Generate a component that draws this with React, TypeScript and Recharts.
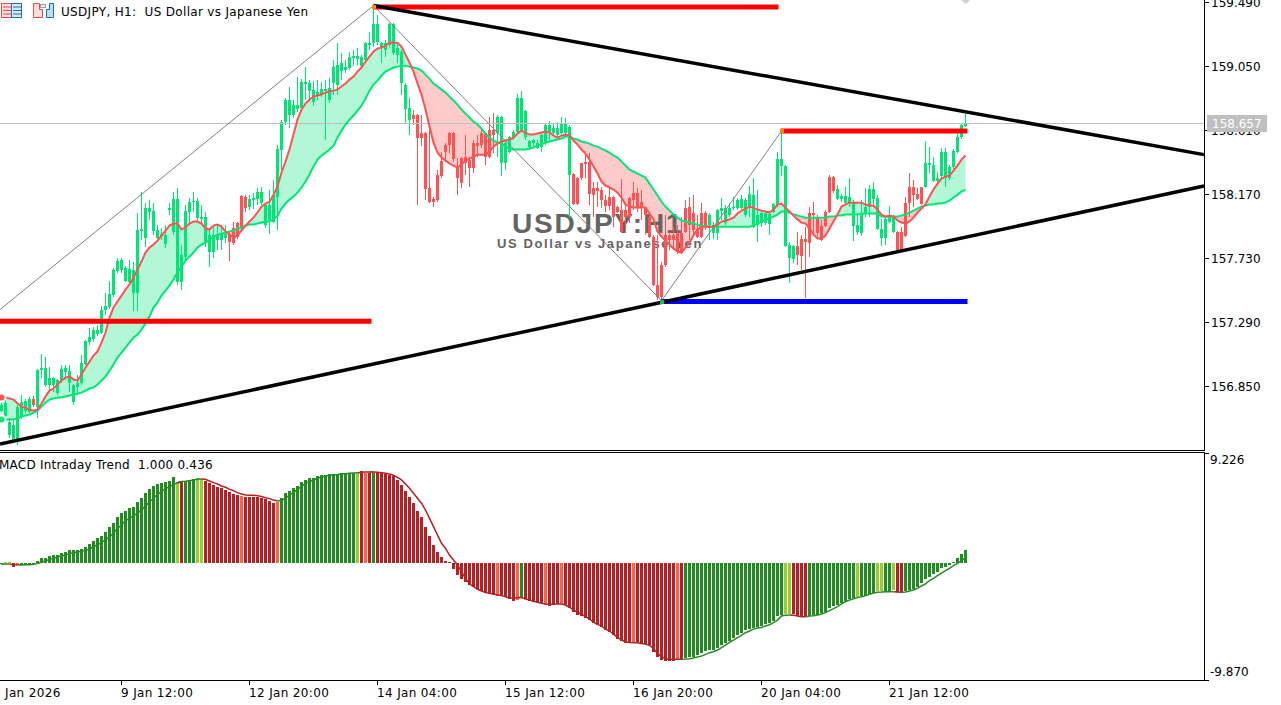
import { Area, Bar, Cell, ComposedChart, Line, ReferenceDot, ReferenceLine, XAxis, YAxis } from "recharts";

const UI_FONT = "'DejaVu Sans', sans-serif";

const opens = [
  156.684, 156.65, 156.519, 156.478, 156.478, 156.643, 156.684, 156.677, 156.767, 156.712,
  156.966, 156.863, 156.863, 156.863, 156.808, 156.891, 156.953, 156.877, 156.746, 156.849,
  156.877, 157.008, 157.159, 157.179, 157.214, 157.221, 157.379, 157.399, 157.482, 157.647,
  157.654, 157.578, 157.571, 157.496, 157.496, 157.922, 157.874, 158.053, 157.922, 157.874,
  157.888, 157.833, 158.066, 157.915, 157.571, 157.571, 157.743, 158.053, 158.121, 158.011,
  158.004, 157.839, 157.778, 157.778, 157.86, 157.86, 157.874, 157.894, 157.943, 157.977,
  158.163, 158.156, 158.087, 158.135, 158.142, 158.114, 157.963, 157.998, 157.984, 158.156,
  158.479, 158.671, 158.719, 158.719, 158.761, 158.768, 158.933, 158.884, 158.809, 158.857,
  158.857, 158.884, 158.823, 158.939, 158.926, 159.022, 159.029, 159.043, 159.111, 159.104,
  159.056, 159.098, 159.201, 159.214, 159.221, 159.187, 159.166, 159.201, 159.146, 159.132,
  158.939, 158.761, 158.685, 158.719, 158.719, 158.596, 158.596, 158.218, 158.142, 158.307,
  158.403, 158.513, 158.596, 158.596, 158.355, 158.424, 158.431, 158.41, 158.527, 158.527,
  158.596, 158.596, 158.616, 158.616, 158.596, 158.389, 158.389, 158.465, 158.568, 158.603,
  158.616, 158.568, 158.499, 158.527, 158.493, 158.499, 158.534, 158.603, 158.596, 158.582,
  158.596, 158.596, 158.307, 158.314, 158.286, 158.389, 158.396, 158.396, 158.218, 158.218,
  158.204, 158.135, 158.156, 158.156, 158.087, 158.066, 158.066, 158.149, 158.183, 158.183,
  158.121, 158.08, 158.018, 157.881, 157.551, 157.688, 157.894, 157.894, 157.894, 157.908,
  157.908, 158.08, 158.087, 158.046, 157.936, 158.046, 158.046, 157.963, 157.908, 157.908,
  158.059, 157.977, 158.032, 158.08, 158.08, 158.08, 158.032, 158.087, 157.949, 157.963,
  157.977, 157.977, 157.97, 158.053, 158.101, 158.369, 157.819, 157.736, 157.729, 157.819,
  157.867, 157.867, 158.046, 158.046, 158.018, 157.956, 158.053, 158.293, 158.293, 158.142,
  158.142, 158.114, 158.114, 157.956, 157.915, 157.908, 158.046, 158.087, 158.142, 157.936,
  157.874, 157.874, 157.984, 157.915, 157.915, 157.915, 158.114, 158.224, 158.224, 158.176,
  158.224, 158.224, 158.376, 158.266, 158.266, 158.3, 158.286, 158.286, 158.362, 158.465, 158.568, 158.644,
];

const highs = [
  156.746, 156.76, 156.636, 156.636, 156.726, 156.794, 156.767, 156.781, 156.788, 156.973,
  157.076, 157.056, 156.987, 156.918, 156.904, 157.001, 157.001, 157.001, 156.87, 156.932,
  157.069, 157.173, 157.255, 157.262, 157.276, 157.406, 157.496, 157.578, 157.668, 157.736,
  157.736, 157.681, 157.723, 157.709, 158.046, 158.19, 158.114, 158.135, 158.114, 157.963,
  157.943, 157.963, 158.114, 158.19, 158.218, 157.826, 158.101, 158.149, 158.19, 158.149,
  158.101, 158.053, 157.943, 157.963, 157.963, 157.963, 157.963, 157.915, 157.984, 157.984,
  158.169, 158.169, 158.169, 158.183, 158.218, 158.224, 158.108, 158.204, 158.273, 158.513,
  158.685, 158.836, 158.912, 158.823, 158.981, 158.967, 159.049, 158.96, 158.953, 158.96,
  158.946, 158.96, 158.974, 159.098, 159.214, 159.146, 159.098, 159.153, 159.166, 159.18,
  159.132, 159.221, 159.29, 159.469, 159.407, 159.221, 159.235, 159.352, 159.352, 159.221,
  159.166, 158.939, 158.836, 158.754, 158.726, 158.719, 158.603, 158.664, 158.156, 158.341,
  158.465, 158.527, 158.603, 158.603, 158.424, 158.431, 158.582, 158.431, 158.548, 158.582,
  158.63, 158.603, 158.706, 158.733, 158.719, 158.712, 158.534, 158.575, 158.616, 158.864,
  158.884, 158.754, 158.548, 158.554, 158.548, 158.596, 158.664, 158.678, 158.658, 158.671,
  158.706, 158.699, 158.651, 158.321, 158.293, 158.389, 158.444, 158.458, 158.259, 158.259,
  158.224, 158.169, 158.218, 158.163, 158.094, 158.279, 158.114, 158.156, 158.259, 158.218,
  158.204, 158.087, 158.046, 157.894, 157.894, 157.709, 158.032, 157.915, 157.949, 157.963,
  158.018, 158.135, 158.156, 158.169, 158.032, 158.114, 158.059, 158.046, 157.984, 158.073,
  158.149, 158.101, 158.114, 158.156, 158.149, 158.169, 158.149, 158.231, 158.286, 158.204,
  158.053, 158.053, 158.046, 158.114, 158.465, 158.596, 158.376, 157.846, 157.826, 157.915,
  157.894, 157.949, 158.087, 158.121, 158.032, 157.998, 158.066, 158.307, 158.3, 158.238,
  158.176, 158.224, 158.286, 158.135, 158.032, 158.135, 158.218, 158.238, 158.259, 158.169,
  158.004, 158.018, 158.094, 158.032, 157.922, 157.949, 158.156, 158.321, 158.273, 158.218,
  158.224, 158.541, 158.499, 158.431, 158.328, 158.493, 158.493, 158.376, 158.486, 158.596, 158.658, 158.733,
];

const lows = [
  156.677, 156.636, 156.499, 156.464, 156.451, 156.629, 156.671, 156.671, 156.712, 156.636,
  156.911, 156.849, 156.829, 156.815, 156.794, 156.877, 156.898, 156.815, 156.726, 156.794,
  156.863, 157.001, 157.138, 157.159, 157.2, 157.214, 157.344, 157.386, 157.468, 157.633,
  157.633, 157.571, 157.564, 157.372, 157.372, 157.86, 157.812, 157.998, 157.894, 157.846,
  157.86, 157.805, 158.032, 157.894, 157.551, 157.516, 157.723, 157.963, 158.053, 157.984,
  157.963, 157.812, 157.674, 157.736, 157.791, 157.791, 157.839, 157.716, 157.826, 157.867,
  157.929, 158.053, 158.066, 158.073, 158.101, 158.101, 157.943, 157.901, 157.977, 157.929,
  158.341, 158.651, 158.63, 158.699, 158.74, 158.747, 158.823, 158.809, 158.781, 158.823,
  158.843, 158.548, 158.802, 158.857, 158.857, 158.96, 159.008, 159.029, 159.056, 159.063,
  159.043, 159.077, 159.166, 159.187, 159.201, 159.077, 159.118, 159.187, 159.132, 159.077,
  158.857, 158.664, 158.582, 158.651, 158.101, 158.506, 158.135, 158.114, 158.087, 158.121,
  158.286, 158.396, 158.458, 158.396, 158.169, 158.218, 158.307, 158.224, 158.321, 158.431,
  158.493, 158.376, 158.424, 158.458, 158.431, 158.3, 158.341, 158.458, 158.548, 158.596,
  158.603, 158.548, 158.479, 158.506, 158.486, 158.465, 158.513, 158.548, 158.582, 158.568,
  158.582, 158.575, 158.011, 158.101, 158.101, 158.273, 158.286, 158.101, 158.018, 158.087,
  158.08, 158.053, 158.066, 157.949, 158.046, 157.908, 157.929, 157.977, 158.066, 158.053,
  157.998, 157.894, 157.874, 157.544, 157.448, 157.448, 157.674, 157.791, 157.791, 157.764,
  157.764, 157.908, 157.86, 157.881, 157.874, 157.874, 157.929, 157.86, 157.867, 157.86,
  157.998, 157.963, 158.018, 158.066, 158.066, 158.073, 158.018, 158.018, 157.943, 157.846,
  157.949, 157.963, 157.894, 158.046, 158.087, 158.3, 157.812, 157.564, 157.702, 157.688,
  157.654, 157.461, 157.743, 157.908, 157.888, 157.853, 157.949, 158.046, 158.183, 158.135,
  158.121, 158.101, 158.087, 157.853, 157.894, 157.888, 158.018, 158.018, 158.087, 157.929,
  157.819, 157.826, 157.977, 157.908, 157.791, 157.778, 157.881, 158.018, 158.087, 158.135,
  158.101, 158.218, 158.321, 158.259, 158.231, 158.273, 158.224, 158.273, 158.348, 158.458, 158.554, 158.637,
];

const closes = [
  156.726, 156.739, 156.609, 156.588, 156.712, 156.746, 156.753, 156.767, 156.726, 156.966,
  156.98, 156.98, 156.911, 156.911, 156.898, 156.973, 156.98, 156.959, 156.863, 156.877,
  157.014, 157.166, 157.193, 157.241, 157.241, 157.379, 157.406, 157.489, 157.654, 157.716,
  157.723, 157.668, 157.661, 157.654, 157.929, 157.936, 158.08, 158.08, 158.059, 157.929,
  157.901, 157.894, 158.08, 158.142, 158.142, 157.757, 158.059, 158.121, 158.128, 158.128,
  158.018, 158.018, 157.894, 157.894, 157.894, 157.901, 157.901, 157.846, 157.839, 157.881,
  157.949, 158.08, 158.142, 158.149, 158.19, 158.19, 158.101, 158.101, 158.169, 158.486,
  158.671, 158.823, 158.823, 158.788, 158.788, 158.946, 158.946, 158.939, 158.891, 158.878,
  158.898, 158.898, 158.905, 159.049, 159.063, 159.077, 159.049, 159.118, 159.125, 159.125,
  159.118, 159.214, 159.214, 159.345, 159.345, 159.214, 159.214, 159.345, 159.345, 159.18,
  159.153, 158.926, 158.768, 158.692, 158.561, 158.561, 158.211, 158.121, 158.121, 158.135,
  158.3, 158.465, 158.513, 158.417, 158.286, 158.252, 158.389, 158.355, 158.355, 158.506,
  158.513, 158.431, 158.431, 158.582, 158.706, 158.706, 158.527, 158.568, 158.603, 158.836,
  158.836, 158.747, 158.541, 158.548, 158.527, 158.582, 158.651, 158.651, 158.63, 158.63,
  158.664, 158.658, 158.637, 158.108, 158.108, 158.286, 158.383, 158.176, 158.169, 158.197,
  158.135, 158.094, 158.094, 158.018, 158.053, 157.915, 158.018, 158.018, 158.135, 158.087,
  158.08, 158.032, 157.881, 157.551, 157.468, 157.468, 157.688, 157.86, 157.86, 157.778,
  157.771, 157.915, 157.963, 157.929, 157.881, 157.881, 157.949, 158.032, 157.963, 158.066,
  158.08, 158.08, 158.08, 158.087, 158.135, 158.142, 158.135, 158.176, 158.169, 158.032,
  158.046, 158.046, 158.039, 158.108, 158.417, 158.417, 158.369, 157.826, 157.819, 157.757,
  157.75, 157.846, 157.839, 158.032, 157.908, 157.86, 157.956, 158.053, 158.197, 158.211,
  158.163, 158.163, 158.156, 158.114, 157.963, 158.046, 158.087, 158.211, 158.211, 158.149,
  157.936, 158.004, 158.032, 158.018, 157.791, 157.791, 157.888, 158.114, 158.169, 158.142,
  158.108, 158.389, 158.389, 158.376, 158.286, 158.465, 158.465, 158.362, 158.472, 158.568, 158.651, 158.657,
];

const fastMa = [
  156.774, 156.774, 156.767, 156.76, 156.733, 156.712, 156.705, 156.691, 156.684, 156.691,
  156.733, 156.781, 156.822, 156.836, 156.863, 156.891, 156.911, 156.918, 156.898, 156.891,
  156.932, 156.98, 157.021, 157.063, 157.09, 157.152, 157.221, 157.324, 157.393, 157.434,
  157.475, 157.516, 157.551, 157.599, 157.654, 157.709, 157.771, 157.805, 157.826, 157.853,
  157.888, 157.922, 157.956, 157.97, 157.97, 157.929, 157.943, 157.97, 157.984, 157.984,
  157.97, 157.936, 157.929, 157.956, 157.963, 157.949, 157.915, 157.894, 157.874, 157.888,
  157.922, 157.956, 157.984, 158.011, 158.046, 158.087, 158.108, 158.121, 158.169, 158.224,
  158.321, 158.396, 158.479, 158.582, 158.685, 158.754, 158.795, 158.823, 158.843, 158.85,
  158.857, 158.871, 158.878, 158.884, 158.891, 158.912, 158.933, 158.96, 158.981, 159.015,
  159.043, 159.084, 159.118, 159.153, 159.173, 159.18, 159.194, 159.214, 159.214, 159.214,
  159.187, 159.132, 159.077, 159.015, 158.933, 158.857, 158.754, 158.637, 158.527, 158.458,
  158.424, 158.403, 158.383, 158.369, 158.355, 158.376, 158.403, 158.417, 158.431, 158.444,
  158.444, 158.444, 158.465, 158.499, 158.52, 158.534, 158.541, 158.548, 158.561, 158.589,
  158.609, 158.596, 158.582, 158.582, 158.589, 158.596, 158.603, 158.596, 158.575, 158.561,
  158.575, 158.582, 158.575, 158.541, 158.513, 158.479, 158.451, 158.41, 158.362, 158.314,
  158.259, 158.231, 158.218, 158.204, 158.183, 158.149, 158.101, 158.087, 158.08, 158.08,
  158.08, 158.08, 158.039, 157.998, 157.915, 157.881, 157.853, 157.826, 157.798, 157.778,
  157.771, 157.805, 157.839, 157.888, 157.929, 157.949, 157.949, 157.949, 157.949, 157.963,
  157.984, 157.991, 157.998, 158.011, 158.039, 158.059, 158.073, 158.087, 158.08, 158.066,
  158.059, 158.053, 158.046, 158.066, 158.101, 158.108, 158.08, 158.053, 158.025, 157.998,
  157.977, 157.97, 157.936, 157.894, 157.867, 157.867, 157.888, 157.936, 157.984, 158.032,
  158.087, 158.101, 158.114, 158.114, 158.114, 158.114, 158.101, 158.094, 158.094, 158.066,
  158.032, 158.018, 158.025, 158.018, 157.991, 157.977, 157.97, 157.984, 158.011, 158.046,
  158.073, 158.101, 158.156, 158.204, 158.245, 158.279, 158.293, 158.3, 158.334, 158.369, 158.41, 158.438,
];

const slowMa = [
  156.623, 156.623, 156.623, 156.623, 156.629, 156.643, 156.65, 156.657, 156.671, 156.684,
  156.712, 156.739, 156.76, 156.767, 156.774, 156.774, 156.781, 156.788, 156.794, 156.801,
  156.808, 156.822, 156.836, 156.843, 156.863, 156.891, 156.918, 156.959, 157.001, 157.049,
  157.083, 157.118, 157.152, 157.186, 157.207, 157.241, 157.283, 157.331, 157.393, 157.427,
  157.475, 157.509, 157.544, 157.585, 157.633, 157.674, 157.716, 157.743, 157.771, 157.805,
  157.826, 157.839, 157.86, 157.881, 157.894, 157.901, 157.908, 157.915, 157.922, 157.936,
  157.943, 157.956, 157.963, 157.963, 157.97, 157.977, 157.984, 157.984, 157.998, 158.025,
  158.073, 158.108, 158.135, 158.156, 158.183, 158.218, 158.259, 158.307, 158.362, 158.41,
  158.438, 158.458, 158.479, 158.506, 158.561, 158.609, 158.651, 158.685, 158.713, 158.747,
  158.781, 158.829, 158.884, 158.926, 158.953, 158.988, 159.015, 159.029, 159.043, 159.049,
  159.056, 159.056, 159.049, 159.043, 159.036, 159.022, 158.994, 158.967, 158.933, 158.912,
  158.891, 158.871, 158.843, 158.816, 158.788, 158.754, 158.726, 158.699, 158.671, 158.651,
  158.623, 158.589, 158.561, 158.541, 158.527, 158.52, 158.499, 158.486, 158.479, 158.479,
  158.479, 158.479, 158.486, 158.493, 158.506, 158.513, 158.527, 158.534, 158.541, 158.548,
  158.554, 158.568, 158.568, 158.554, 158.548, 158.534, 158.527, 158.52, 158.506, 158.499,
  158.486, 158.472, 158.458, 158.438, 158.424, 158.396, 158.369, 158.341, 158.328, 158.314,
  158.3, 158.286, 158.245, 158.204, 158.163, 158.121, 158.087, 158.059, 158.032, 158.011,
  157.991, 157.984, 157.977, 157.97, 157.963, 157.956, 157.956, 157.949, 157.949, 157.949,
  157.949, 157.949, 157.949, 157.949, 157.949, 157.949, 157.949, 157.949, 157.956, 157.97,
  157.984, 157.998, 158.004, 158.018, 158.032, 158.053, 158.053, 158.046, 158.032, 158.025,
  158.018, 158.011, 158.011, 158.011, 158.011, 158.011, 158.011, 158.018, 158.018, 158.025,
  158.025, 158.032, 158.032, 158.032, 158.032, 158.039, 158.039, 158.039, 158.039, 158.039,
  158.018, 158.018, 158.018, 158.018, 158.018, 158.025, 158.032, 158.046, 158.059, 158.073,
  158.087, 158.094, 158.101, 158.101, 158.108, 158.108, 158.114, 158.128, 158.149, 158.169, 158.19, 158.204,
];

const histogram = [
  -0.11, 0.06, 0.06, -0.34, -0.2, -0.22, -0.2, -0.2, -0.14, 0.17,
  0.36, 0.36, 0.56, 0.62, 0.64, 0.84, 0.92, 1.06, 1.06, 1.06,
  1.18, 1.34, 1.54, 1.85, 2.05, 2.24, 2.61, 2.97, 3.31, 3.81,
  4.15, 4.34, 4.57, 4.72, 5.14, 5.42, 5.84, 6.17, 6.45, 6.59,
  6.68, 6.76, 6.9, 7.18, 6.82, 6.9, 6.9, 6.96, 7.04, 7.1,
  7.01, 6.9, 6.68, 6.54, 6.4, 6.26, 6.12, 5.98, 5.78, 5.7,
  5.64, 5.56, 5.56, 5.56, 5.5, 5.42, 5.33, 5.22, 5.05, 5.14,
  5.42, 5.84, 6.06, 6.26, 6.48, 6.82, 6.96, 7.1, 7.15, 7.29,
  7.38, 7.38, 7.46, 7.43, 7.46, 7.52, 7.52, 7.57, 7.57, 7.52,
  7.69, 7.57, 7.57, 7.57, 7.66, 7.52, 7.46, 7.38, 7.29, 6.96,
  6.54, 6.06, 5.56, 5.0, 4.37, 3.87, 3.03, 2.24, 1.49, 0.92,
  0.45, 0.14, 0.08, -0.56, -1.04, -1.4, -1.6, -1.88, -2.07, -2.24,
  -2.38, -2.58, -2.63, -2.72, -2.77, -2.8, -2.91, -3.08, -3.19, -3.14,
  -3.0, -3.05, -3.19, -3.28, -3.36, -3.42, -3.56, -3.61, -3.56, -3.5,
  -3.5, -3.56, -3.84, -4.17, -4.4, -4.46, -4.62, -4.83, -5.11, -5.25,
  -5.39, -5.67, -5.81, -6.09, -6.45, -6.57, -6.73, -6.79, -6.79, -6.73,
  -6.79, -6.85, -6.93, -7.49, -7.97, -8.19, -8.25, -8.25, -8.25, -8.19,
  -8.19, -8.05, -7.97, -7.91, -7.77, -7.57, -7.43, -7.35, -7.35, -7.21,
  -6.93, -6.73, -6.57, -6.37, -6.09, -5.89, -5.67, -5.59, -5.47, -5.39,
  -5.31, -5.19, -5.11, -4.91, -4.46, -4.4, -4.32, -4.32, -4.32, -4.48,
  -4.54, -4.54, -4.48, -4.4, -4.4, -4.26, -4.12, -3.78, -3.64, -3.56,
  -3.36, -3.19, -3.05, -2.94, -2.86, -2.8, -2.77, -2.63, -2.52, -2.38,
  -2.38, -2.35, -2.35, -2.3, -2.44, -2.52, -2.41, -2.3, -2.24, -2.02,
  -1.74, -1.4, -1.18, -0.95, -0.76, -0.48, -0.34, -0.2, 0.08, 0.36, 0.73, 1.06,
];

const signal = [
  -0.14, -0.11, -0.11, -0.17, -0.2, -0.2, -0.17, -0.17, -0.14, -0.08,
  0.06, 0.14, 0.28, 0.36, 0.5, 0.56, 0.64, 0.76, 0.84, 0.9,
  0.95, 1.04, 1.15, 1.34, 1.51, 1.68, 1.91, 2.19, 2.47, 2.89,
  3.17, 3.53, 3.73, 3.95, 4.15, 4.43, 4.77, 5.11, 5.42, 5.75,
  5.98, 6.23, 6.4, 6.57, 6.73, 6.82, 6.85, 6.9, 6.96, 7.01,
  7.04, 7.01, 6.87, 6.73, 6.62, 6.45, 6.34, 6.17, 6.06, 5.89,
  5.78, 5.7, 5.67, 5.67, 5.64, 5.56, 5.47, 5.39, 5.28, 5.19,
  5.22, 5.42, 5.7, 5.89, 6.17, 6.4, 6.68, 6.82, 6.96, 7.1,
  7.18, 7.29, 7.35, 7.38, 7.41, 7.46, 7.49, 7.52, 7.55, 7.57,
  7.6, 7.63, 7.63, 7.63, 7.6, 7.57, 7.52, 7.46, 7.35, 7.18,
  6.96, 6.62, 6.26, 5.84, 5.42, 5.0, 4.43, 3.73, 3.03, 2.33,
  1.63, 1.2, 0.64, 0.22, -0.2, -0.76, -1.32, -1.79, -2.02, -2.24,
  -2.38, -2.52, -2.58, -2.63, -2.72, -2.77, -2.86, -2.97, -3.0, -2.94,
  -2.94, -3.05, -3.14, -3.25, -3.33, -3.42, -3.47, -3.5, -3.5, -3.47,
  -3.47, -3.56, -3.75, -3.98, -4.17, -4.34, -4.54, -4.74, -5.0, -5.19,
  -5.33, -5.59, -5.75, -6.01, -6.29, -6.51, -6.65, -6.71, -6.73, -6.73,
  -6.79, -6.85, -6.96, -7.21, -7.63, -7.91, -8.08, -8.13, -8.13, -8.13,
  -8.13, -8.11, -8.08, -8.02, -7.94, -7.86, -7.71, -7.57, -7.49, -7.35,
  -7.15, -6.93, -6.71, -6.51, -6.31, -6.12, -5.89, -5.75, -5.59, -5.5,
  -5.45, -5.33, -5.22, -5.05, -4.83, -4.48, -4.43, -4.4, -4.43, -4.48,
  -4.54, -4.54, -4.48, -4.46, -4.4, -4.32, -4.2, -4.03, -3.87, -3.7,
  -3.47, -3.28, -3.14, -3.03, -2.94, -2.86, -2.77, -2.66, -2.55, -2.49,
  -2.47, -2.44, -2.44, -2.44, -2.47, -2.49, -2.47, -2.38, -2.3, -2.16,
  -1.96, -1.79, -1.51, -1.32, -1.09, -0.87, -0.67, -0.48, -0.25, -0.06, 0.14, 0.436,
];

// G forestgreen, Y yellowgreen, R firebrick, T tomato, one letter per bar
const histStates =
  "GYYRT" + "G".repeat(39) + "YR" + "GGG" + "YY" + "R".repeat(9) + "T" + "R".repeat(8) + "T" +
  "G".repeat(19) + "YRTRG" + "R".repeat(30) + "T" + "RRRR" + "TG" + "RRRRR" + "T" + "RRR" + "T" +
  "R".repeat(17) + "T" + "R".repeat(10) + "TR" + "G".repeat(25) + "YY" + "RRRR" + "G".repeat(12) +
  "Y" + "GGGG" + "YY" + "GG" + "Y" + "RR" + "G".repeat(16);

const histColors: Record<string, string> = { G: "#228b22", Y: "#9acd32", R: "#b22222", T: "#ff6347" };

const priceTicks = [159.49, 159.05, 158.61, 158.17, 157.73, 157.29, 156.85];
const macdTicks = [9.226, -9.87];
const timeTicks = [-0.375, 30, 62, 94, 126, 158, 190, 222];
const timeLabels = ["Jan 2026", "9 Jan 12:00", "12 Jan 20:00", "14 Jan 04:00", "15 Jan 12:00", "16 Jan 20:00", "20 Jan 04:00", "21 Jan 12:00"];

const xDomain: [number, number] = [-0.375, 300.625];
const priceDomain: [number, number] = [156.4134, 159.5072];
const lastPrice = 158.657;

const zigzag = [
  { x: -0.375, y: 157.379 },
  { x: 93, y: 159.469 },
  { x: 165, y: 157.44 },
  { x: 195, y: 158.606 },
];
const upperTrend = [{ x: 93, y: 159.469 }, { x: 300.625, y: 158.444 }];
const lowerTrend = [{ x: -0.375, y: 156.454 }, { x: 300.625, y: 158.228 }];
const levels = [
  { from: -0.375, to: 92.5, y: 157.299, color: "#ff0000" },
  { from: 93, to: 194.25, y: 159.459, color: "#ff0000" },
  { from: 194.75, to: 241.5, y: 158.606, color: "#ff0000" },
  { from: 165, to: 241.5, y: 157.434, color: "#0000ff" },
];
const pivots = [
  { x: 93, y: 159.459, color: "#ff8c00" },
  { x: 195, y: 158.606, color: "#ff8c00" },
  { x: 165, y: 157.434, color: "#00c853" },
];

const priceRows = opens.map((open, i) => ({
  index: i,
  open,
  high: highs[i],
  low: lows[i],
  close: closes[i],
  fast: fastMa[i],
  slow: slowMa[i],
  bull: [slowMa[i], Math.max(fastMa[i], slowMa[i])],
  bear: [Math.min(fastMa[i], slowMa[i]), slowMa[i]],
  range: [lows[i], highs[i]],
}));

const isRed = (i: number) => histStates[i] === "R" || histStates[i] === "T";

const macdRows = histogram.map((hist, i) => ({
  index: i,
  hist,
  signalUp: !isRed(i) || (i < histogram.length - 1 && !isRed(i + 1)) ? signal[i] : null,
  signalDown: isRed(i) || (i < histogram.length - 1 && isRed(i + 1)) ? signal[i] : null,
}));

const Candle = (props: any) => {
  const { x, y, width, height, payload } = props;
  const up = payload.close >= payload.open;
  const color = up ? "#00e676" : "#ff5252";
  const span = payload.high - payload.low || 1;
  const top = Math.max(payload.open, payload.close);
  const bottom = Math.min(payload.open, payload.close);
  const bodyTop = Math.round(y + ((payload.high - top) / span) * height);
  const bodyBottom = Math.round(y + ((payload.high - bottom) / span) * height);
  return (
    <g shapeRendering="crispEdges">
      <rect x={x + 1} y={Math.round(y)} width={1} height={Math.max(1, Math.round(height))} fill={color} />
      <rect x={x} y={bodyTop} width={width} height={Math.max(1, bodyBottom - bodyTop)} fill={color} />
    </g>
  );
};

const TimeTick = (props: any) => {
  const { x, y, payload } = props;
  const i = timeTicks.indexOf(payload.value);
  if (i === 0) {
    return (
      <text x={5} y={y + 17} fontSize={12} fontFamily={UI_FONT} fill="#000" letterSpacing={0.35}>
        {timeLabels[i]}
      </text>
    );
  }
  return (
    <g>
      <rect x={x - 0.5} y={y} width={1} height={5} fill="#000" />
      <text x={x - 0.5} y={y + 17} fontSize={12} fontFamily={UI_FONT} fill="#000" letterSpacing={0.35}>
        {timeLabels[i]}
      </text>
    </g>
  );
};

// labels sit inside the panel, below the top tick and above the bottom one
const MacdTick = (props: any) => {
  const { y, payload } = props;
  const dy = payload.value > 0 ? 11 : -4;
  return (
    <text x={1210} y={y + dy} fontSize={12} fontFamily={UI_FONT} fill="#000">
      {payload.value.toFixed(3)}
    </text>
  );
};

const PivotMark = (props: any) => (
  <rect x={props.cx - 2} y={props.cy - 2} width={4} height={4} fill={props.fill} shapeRendering="crispEdges" />
);

const fixed = (value: number) => value.toFixed(3);

export default function App() {
  return (
    <div style={{ position: "fixed", left: 0, top: 0, width: 1281, height: 705, background: "#fff", overflow: "hidden" }}>
      {/* cloud sits under the watermark, candles over it */}
      <div style={{ position: "absolute", left: 0, top: 0 }}>
        <ComposedChart width={1281} height={451} data={priceRows} margin={{ top: 0, right: 77, bottom: 1, left: 0 }}>
          <XAxis type="number" dataKey="index" domain={xDomain} hide allowDataOverflow />
          <YAxis type="number" domain={priceDomain} hide allowDataOverflow />
          <Area dataKey="bull" stroke="none" fill="#b2f7d6" fillOpacity={1} isAnimationActive={false} />
          <Area dataKey="bear" stroke="none" fill="#ffcaca" fillOpacity={1} isAnimationActive={false} />
        </ComposedChart>
      </div>

      <svg width={1281} height={451} style={{ position: "absolute", left: 0, top: 0 }}>
        <text x={512} y={233} fontSize={28} fontWeight={700} letterSpacing={1.8} fontFamily="'Liberation Sans', sans-serif" fill="#646464">
          USDJPY:H1
        </text>
        <text x={497} y={248} fontSize={13} fontWeight={700} letterSpacing={1.6} fontFamily="'Liberation Sans', sans-serif" fill="#646464">
          US Dollar vs Japanese Yen
        </text>
      </svg>

      <div style={{ position: "absolute", left: 0, top: 0 }}>
        <ComposedChart width={1281} height={451} data={priceRows} margin={{ top: 0, right: 0, bottom: 1, left: 0 }}>
          <XAxis type="number" dataKey="index" domain={xDomain} hide allowDataOverflow />
          <YAxis
            orientation="right"
            type="number"
            domain={priceDomain}
            ticks={priceTicks}
            width={77}
            interval={0}
            allowDataOverflow
            tickFormatter={fixed}
            tickSize={5}
            tick={{ fill: "#000", fontSize: 12, fontFamily: UI_FONT }}
            axisLine={{ stroke: "#000", shapeRendering: "crispEdges" }}
            tickLine={{ stroke: "#000", shapeRendering: "crispEdges" }}
          />
          <ReferenceLine y={lastPrice} stroke="#c0c0c0" shapeRendering="crispEdges" />
          <Bar dataKey="range" barSize={3} shape={Candle} isAnimationActive={false} />
          <Line dataKey="slow" stroke="#00e676" strokeWidth={2} dot={false} isAnimationActive={false} />
          <Line dataKey="fast" stroke="#ff5252" strokeWidth={2} dot={false} isAnimationActive={false} />
          {zigzag.slice(1).map((p, i) => (
            <ReferenceLine key={`zig${i}`} segment={[zigzag[i], p]} stroke="#808080" strokeWidth={1} />
          ))}
          {levels.map((l) => (
            <ReferenceLine
              key={`${l.from}`}
              segment={[{ x: l.from, y: l.y }, { x: l.to, y: l.y }]}
              stroke={l.color}
              strokeWidth={5}
            />
          ))}
          <ReferenceLine segment={upperTrend} stroke="#000" strokeWidth={3.5} />
          <ReferenceLine segment={lowerTrend} stroke="#000" strokeWidth={3.5} />
          {pivots.map((p) => (
            <ReferenceDot key={p.x} x={p.x} y={p.y} fill={p.color} stroke="none" shape={PivotMark} />
          ))}
        </ComposedChart>
      </div>

      <div style={{ position: "absolute", left: 0, top: 452 }}>
        <ComposedChart width={1281} height={253} data={macdRows} margin={{ top: 1, right: 0, bottom: 0, left: 0 }}>
          <XAxis
            type="number"
            dataKey="index"
            domain={xDomain}
            ticks={timeTicks}
            interval={0}
            height={25}
            allowDataOverflow
            tickSize={0}
            tickMargin={0}
            tick={<TimeTick />}
            axisLine={{ stroke: "#000", shapeRendering: "crispEdges" }}
          />
          <YAxis
            orientation="right"
            type="number"
            domain={[-9.87, 9.226]}
            ticks={macdTicks}
            width={77}
            interval={0}
            allowDataOverflow
            tickSize={5}
            tick={<MacdTick />}
            axisLine={{ stroke: "#000", shapeRendering: "crispEdges" }}
            tickLine={{ stroke: "#000", shapeRendering: "crispEdges" }}
          />
          <Bar dataKey="hist" barSize={3} shapeRendering="crispEdges" isAnimationActive={false}>
            {macdRows.map((row) => (
              <Cell key={row.index} fill={histColors[histStates[row.index]]} />
            ))}
          </Bar>
          <Line dataKey="signalUp" stroke="#228b22" strokeWidth={1.5} dot={false} isAnimationActive={false} />
          <Line dataKey="signalDown" stroke="#b22222" strokeWidth={1.5} dot={false} isAnimationActive={false} />
        </ComposedChart>
      </div>

      <div style={{ position: "absolute", left: 0, top: 450, width: 1205, height: 1, background: "#000" }} />
      <div style={{ position: "absolute", left: 0, top: 452, width: 1205, height: 1, background: "#000" }} />

      <svg width={1281} height={705} style={{ position: "absolute", left: 0, top: 0, pointerEvents: "none" }}>
        <rect x={1.5} y={3.5} width={10} height={14} fill="#fdd" stroke="#e05050" />
        <rect x={11.5} y={3.5} width={10} height={14} fill="#d8eaff" stroke="#2070b0" />
        <path d="M3 7h8M3 10.5h8M3 14h8" stroke="#e05050" />
        <path d="M13 7h8M13 10.5h8M13 14h8" stroke="#2070b0" />
        <path d="M33.5 3.5h6v6h3v8h-9z" fill="#fdd" stroke="#e05050" />
        <path d="M46.5 9.5h3v-6h4v14h-7z" fill="#c0dcf5" stroke="#2070b0" />
        <rect x={40.5} y={4.5} width={5} height={3} fill="#eee" stroke="#a0a0a0" />
        <polygon points="961,0 970,0 966,4" fill="#d0d0d0" />
        <text x={61} y={16} fontSize={12} fontFamily={UI_FONT} fill="#000" letterSpacing={0.32} style={{ whiteSpace: "pre" }}>
          USDJPY, H1:  US Dollar vs Japanese Yen
        </text>
        <text x={-1} y={469} fontSize={12} fontFamily={UI_FONT} fill="#000" letterSpacing={0.22} style={{ whiteSpace: "pre" }}>
          MACD Intraday Trend  1.000 0.436
        </text>
        <rect x={1207} y={115} width={60} height={17} fill="#c0c0c0" />
        <text x={1212} y={128} fontSize={12} fontFamily={UI_FONT} fill="#fff">
          {fixed(lastPrice)}
        </text>
      </svg>
    </div>
  );
}
